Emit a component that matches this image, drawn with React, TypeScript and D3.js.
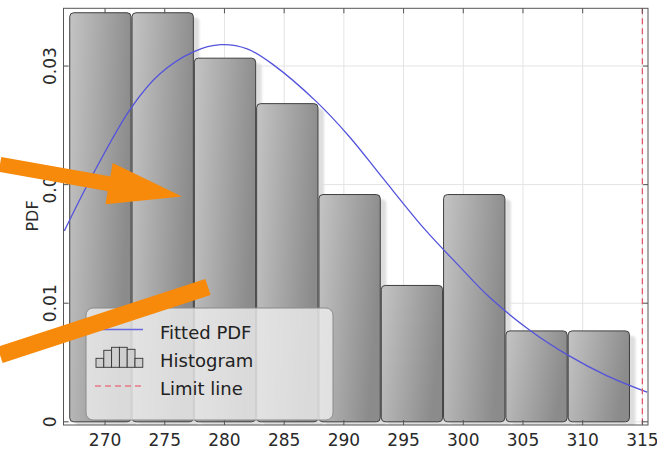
import React from 'react';
import * as d3 from 'd3';

// Histogram: equal-width bins, heights are counts scaled to a density
const binStart = 267.0;
const binWidth = 5.218;
const binCounts = [9, 9, 8, 7, 5, 3, 5, 2, 2];
const sampleSize = 50;

// Fitted probability density, sampled along x
const fitX = [266.59, 269.0, 272.2, 274.6, 277.4, 279.7, 281.9, 284.1, 287.7, 290.5, 293.3, 296.8, 299.5, 302.2, 305.6, 308.8, 312.0, 315.4];
const fitY = [0.0161, 0.0209, 0.0265, 0.02935, 0.0312, 0.0318, 0.03145, 0.0301, 0.0270, 0.0240, 0.0205, 0.0162, 0.0133, 0.0105, 0.0077, 0.0056, 0.0039, 0.0025];

const limitValue = 315;

const xTickValues = [270, 275, 280, 285, 290, 295, 300, 305, 310, 315];
const yTickValues = [0, 0.01, 0.02, 0.03];
const yTickLabels = ['0', '0.01', '0.02', '0.03'];
const legendLabels = ['Fitted PDF', 'Histogram', 'Limit line'];

// Callout arrows, in data units
const arrowOne = { from: [261.2, 0.0217], to: [276.44, 0.0190] };
const arrowTwo = { from: [261.2, 0.00563], to: [278.62, 0.01137] };

const W = 657;
const H = 452;
const plot = { left: 63.5, right: 648, top: 8.3, bottom: 425 };
const FONT = 'DejaVu Sans, Verdana, sans-serif';
const ORANGE = '#f7890b';

export default function App() {
  const x = d3.scaleLinear().domain([266.52, 315.47]).range([plot.left, plot.right]);
  const y = d3.scaleLinear().domain([-0.00027, 0.03487]).range([plot.bottom, plot.top]);

  const bins = binCounts.map((c, i) => ({
    x0: binStart + i * binWidth,
    x1: binStart + (i + 1) * binWidth,
    density: c / (sampleSize * binWidth),
  }));

  const fitLine = d3
    .line<number>()
    .x((_, i) => x(fitX[i]))
    .y((d) => y(d))
    .curve(d3.curveCatmullRom.alpha(0.5))(fitY) as string;

  const arrowPath = (a: { from: number[]; to: number[] }, headLen: number, headHalf: number) => {
    const x0 = x(a.from[0]);
    const y0 = y(a.from[1]);
    const x1 = x(a.to[0]);
    const y1 = y(a.to[1]);
    const dx = x1 - x0;
    const dy = y1 - y0;
    const len = Math.hypot(dx, dy);
    const ux = dx / len;
    const uy = dy / len;
    const bx = x1 - ux * headLen;
    const by = y1 - uy * headLen;
    return {
      shaft: { x1: x0, y1: y0, x2: bx + ux * 2, y2: by + uy * 2 },
      head: `M${x1},${y1}L${bx - uy * headHalf},${by + ux * headHalf}L${bx + uy * headHalf},${by - ux * headHalf}Z`,
    };
  };
  const a1 = arrowPath(arrowOne, 74, 21);
  const x2a = x(arrowTwo.from[0]);
  const y2a = y(arrowTwo.from[1]);
  const x2b = x(arrowTwo.to[0]);
  const y2b = y(arrowTwo.to[1]);

  const tickLen = 5;
  const frameColor = '#555';
  const gridColor = '#e3e3e3';
  const iconBars = [9, 17, 20, 20, 18, 9];

  return (
    <div style={{ position: 'fixed', left: 0, top: 0 }}>
      <svg width={W} height={H} style={{ display: 'block', background: '#fff' }}>
        <defs>
          <linearGradient id="barFill" x1="0" y1="0" x2="1" y2="0.25">
            <stop offset="0" stopColor="#c4c4c4" />
            <stop offset="1" stopColor="#8b8b8b" />
          </linearGradient>
          <filter id="barShadow" x="-20%" y="-20%" width="140%" height="140%">
            <feGaussianBlur stdDeviation="1.2" />
          </filter>
          <clipPath id="plotClip">
            <rect x={plot.left} y={plot.top} width={plot.right - plot.left} height={plot.bottom - plot.top} />
          </clipPath>
        </defs>

        {/* grid */}
        <g stroke={gridColor} strokeWidth={1}>
          {xTickValues.map((t) => (
            <line key={'gx' + t} x1={x(t)} x2={x(t)} y1={plot.top} y2={plot.bottom} />
          ))}
          {yTickValues.map((t) => (
            <line key={'gy' + t} x1={plot.left} x2={plot.right} y1={y(t)} y2={y(t)} />
          ))}
        </g>

        {/* histogram */}
        <g clipPath="url(#plotClip)">
          {bins.map((b, i) => (
            <rect
              key={'s' + i}
              x={x(b.x0) + 6.5}
              y={y(b.density) + 5}
              width={x(b.x1) - x(b.x0) - 1}
              height={y(0) - y(b.density)}
              rx={4}
              fill="#dedede"
              filter="url(#barShadow)"
            />
          ))}
          {bins.map((b, i) => (
            <rect
              key={'b' + i}
              x={x(b.x0) + 0.5}
              y={y(b.density)}
              width={x(b.x1) - x(b.x0) - 1}
              height={y(0) - y(b.density)}
              rx={4}
              fill="url(#barFill)"
              stroke="#3f3f3f"
              strokeWidth={1}
            />
          ))}
          <path d={fitLine} fill="none" stroke="#5353dc" strokeWidth={1.3} />
          <line
            x1={x(limitValue)}
            x2={x(limitValue)}
            y1={plot.top}
            y2={plot.bottom}
            stroke="#e2566a"
            strokeWidth={1.3}
            strokeDasharray="6,4"
          />
        </g>

        {/* frame and inward ticks */}
        <rect
          x={plot.left}
          y={plot.top}
          width={plot.right - plot.left}
          height={plot.bottom - plot.top}
          fill="none"
          stroke={frameColor}
          strokeWidth={1}
        />
        <g stroke={frameColor} strokeWidth={1}>
          {xTickValues.map((t) => (
            <g key={'tx' + t}>
              <line x1={x(t)} x2={x(t)} y1={plot.bottom} y2={plot.bottom - tickLen} />
              <line x1={x(t)} x2={x(t)} y1={plot.top} y2={plot.top + tickLen} />
            </g>
          ))}
          {yTickValues.map((t) => (
            <g key={'ty' + t}>
              <line x1={plot.left} x2={plot.left + tickLen} y1={y(t)} y2={y(t)} />
              <line x1={plot.right} x2={plot.right - tickLen} y1={y(t)} y2={y(t)} />
            </g>
          ))}
        </g>

        {/* tick labels */}
        <g fontFamily={FONT} fontSize={17} fill="#2a2a2a">
          {xTickValues.map((t) => (
            <text key={'lx' + t} x={x(t)} y={445.5} textAnchor="middle">
              {t}
            </text>
          ))}
          {yTickValues.map((t, i) => (
            <text
              key={'ly' + t}
              transform={`translate(55.5,${y(t)}) rotate(-90)`}
              textAnchor="middle"
            >
              {yTickLabels[i]}
            </text>
          ))}
          <text transform={`translate(37.5,216) rotate(-90)`} textAnchor="middle" fontSize={16}>
            PDF
          </text>
        </g>

        {/* legend */}
        <g>
          <rect x={86} y={308} width={247} height={112} rx={7} fill="#ececec" fillOpacity={0.82} stroke="#8a8a8a" strokeWidth={1} />
          <line x1={95} x2={143} y1={329.5} y2={329.5} stroke="#6a6ae0" strokeWidth={1.5} />
          <g fill="#cfcfcf" stroke="#333" strokeWidth={0.9}>
            {iconBars.map((h, i) => (
              <rect key={'ib' + i} x={96 + i * 7.8} y={367.3 - h} width={7.8} height={h} />
            ))}
          </g>
          <line x1={95} x2={143} y1={386} y2={386} stroke="#e77a88" strokeWidth={1.5} strokeDasharray="6,4" />
          <g fontFamily={FONT} fontSize={18} fill="#222">
            {legendLabels.map((l, i) => (
              <text key={l} x={160} y={338.5 + i * 28}>
                {l}
              </text>
            ))}
          </g>
        </g>

        {/* callout arrows */}
        <g>
          <line {...a1.shaft} stroke={ORANGE} strokeWidth={15} />
          <path d={a1.head} fill={ORANGE} />
          <line x1={x2a} y1={y2a} x2={x2b} y2={y2b} stroke={ORANGE} strokeWidth={17} />
        </g>
      </svg>
    </div>
  );
}
